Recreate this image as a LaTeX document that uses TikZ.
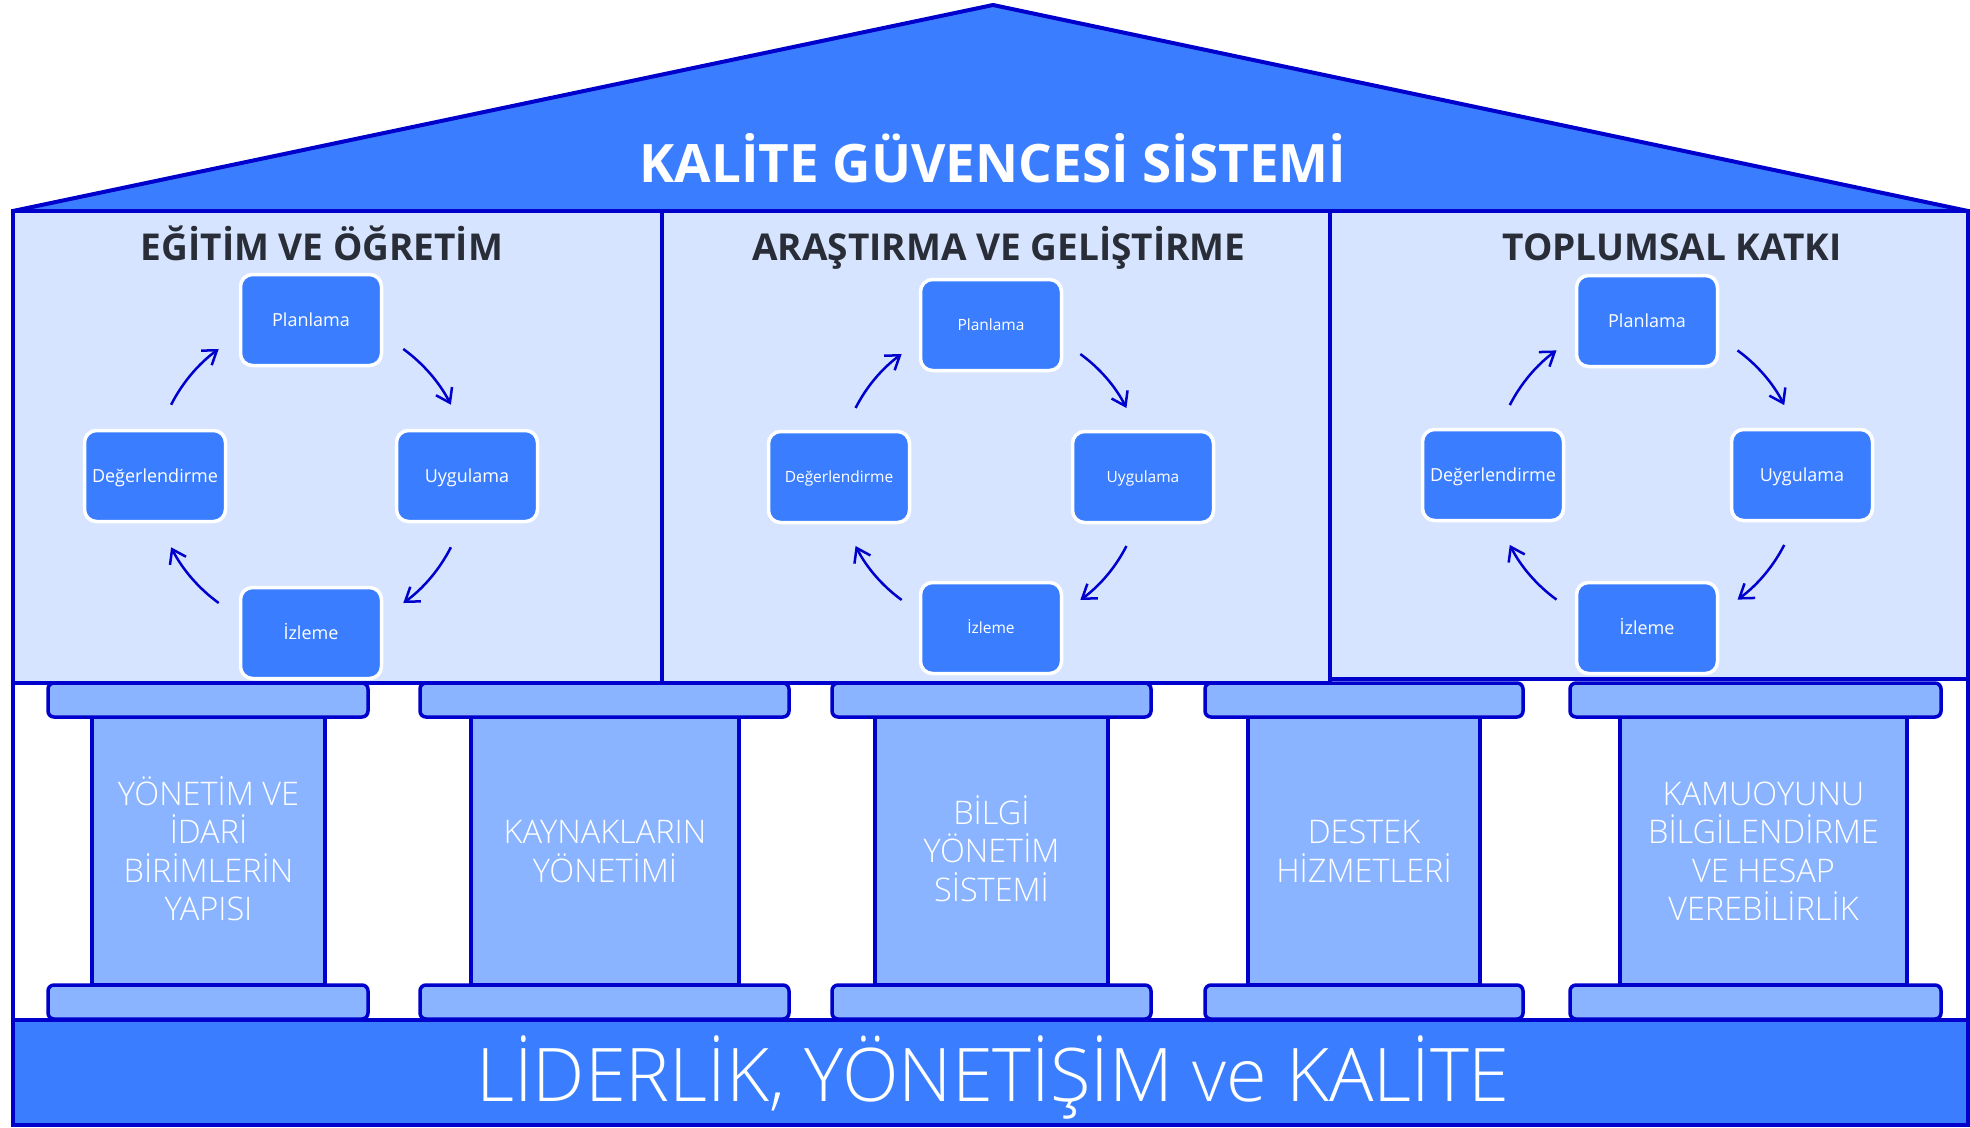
\documentclass[tikz,border=0pt]{standalone}
\usepackage{fontspec}
\setmainfont{Open Sans}
\newfontfamily\lightfont{Open Sans Light}
\usetikzlibrary{arrows.meta,calc}
\definecolor{roofblue}{RGB}{58,126,255}
\definecolor{panelbg}{RGB}{214,228,255}
\definecolor{pillarbg}{RGB}{138,180,255}
\definecolor{edgeblue}{RGB}{0,0,204}
\definecolor{titlecol}{RGB}{40,45,55}
\begin{document}
\begin{tikzpicture}[x=1pt,y=-1pt,
  roofst/.style={draw=edgeblue, fill=roofblue, line width=4pt, line join=round},
  rooftext/.style={text=white, font=\bfseries\fontsize{53}{60}\selectfont, inner sep=0pt},
  panel/.style={draw=edgeblue, fill=panelbg, line width=4pt, outer sep=0pt, inner sep=0pt},
  ptitle/.style={text=titlecol, font=\bfseries\fontsize{37}{42}\selectfont, inner sep=0pt},
  cbox/.style={draw=white, fill=roofblue, line width=3.5pt, rounded corners=12pt,
    minimum width=141pt, minimum height=91pt, text=white, inner sep=0pt, outer sep=0pt,
    text height=13pt, text depth=0pt, font=\fontsize{18}{20}\selectfont},
  cboxs/.style={cbox, text height=11.5pt, font=\fontsize{15.5}{18}\selectfont},
  cyc/.style={draw=edgeblue, line width=2.5pt, -{Straight Barb[length=13pt,width=18pt]}},
  pcap/.style={draw=edgeblue, fill=pillarbg, line width=3.5pt, rounded corners=6pt},
  pshaft/.style={draw=edgeblue, fill=pillarbg, line width=3.5pt},
  ptext/.style={text=white, align=center, inner sep=0pt, font=\lightfont\fontsize{32.5}{38.5}\selectfont},
  basest/.style={draw=edgeblue, fill=roofblue, line width=4pt},
  basetext/.style={text=white, inner sep=0pt, font=\lightfont\fontsize{74}{82}\selectfont},
  edgeline/.style={draw=edgeblue, line width=4pt}
]
\useasboundingbox (0,0) rectangle (1970,1127);

% roof
\draw[roofst] (13,211) -- (993,5) -- (1968,211) -- cycle;
\node[rooftext, anchor=base] (roof) at (993,182) {KALİTE GÜVENCESİ SİSTEMİ};

% side lines of the pillar hall
\draw[edgeline] (13,683) -- (13,1020);
\draw[edgeline] (1968,679) -- (1968,1020);

% panels
\node[panel, minimum width=649pt, minimum height=472pt] (pan1) at (337.5,447) {};
\node[panel, minimum width=668pt, minimum height=472pt] (pan2) at (996,447) {};
\node[panel, minimum width=638pt, minimum height=468pt] (pan3) at (1649,445) {};

\node[ptitle, anchor=base] (t1) at (322,260) {EĞİTİM VE ÖĞRETİM};
\node[ptitle, anchor=base] (t2) at (999,260) {ARAŞTIRMA VE GELİŞTİRME};
\node[ptitle, anchor=base] (t3) at (1672,260) {TOPLUMSAL KATKI};

% cycle 1
\node[cbox] (p1) at (311,320) {Planlama};
\node[cbox] (u1) at (467,476) {Uygulama};
\node[cbox] (i1) at (311,633) {İzleme};
\node[cbox] (d1) at (155,476) {Değerlendirme};
\coordinate (c1) at (311,476);
\foreach \a in {-54,27,126,207}
  \draw[cyc] ($(c1)+(\a:157)$) arc[start angle=\a, delta angle=27, radius=157];

% cycle 2
\node[cboxs] (p2) at (991,325) {Planlama};
\node[cboxs] (u2) at (1143,477) {Uygulama};
\node[cboxs] (i2) at (991,628) {İzleme};
\node[cboxs] (d2) at (839,477) {Değerlendirme};
\coordinate (c2) at (991,477);
\foreach \a in {-54,27,126,207}
  \draw[cyc] ($(c2)+(\a:152)$) arc[start angle=\a, delta angle=27, radius=152];

% cycle 3
\node[cbox] (p3) at (1647,321) {Planlama};
\node[cbox] (u3) at (1802,475) {Uygulama};
\node[cbox] (i3) at (1647,628) {İzleme};
\node[cbox] (d3) at (1493,475) {Değerlendirme};
\coordinate (c3) at (1647,475);
\foreach \a in {-54,27,126,207}
  \draw[cyc] ($(c3)+(\a:154)$) arc[start angle=\a, delta angle=27, radius=154];

% pillars
\foreach \cl/\cr/\sl/\sr in {48/368/92/325, 420/789/471/739, 832/1151/875/1108, 1205/1523/1248/1480, 1570/1941/1620/1907}{
  \draw[pshaft] (\sl,717) rectangle (\sr,985);
  \draw[pcap] (\cl,683) rectangle (\cr,717);
  \draw[pcap] (\cl,985) rectangle (\cr,1019);
}
\node[ptext] (l1) at (208.5,848.5) {YÖNETİM VE\\İDARİ\\BİRİMLERİN\\YAPISI};
\node[ptext] (l2) at (605,848.5) {\vphantom{İ}KAYNAKLARIN\\YÖNETİMİ};
\node[ptext] (l3) at (991.5,848.5) {BİLGİ\\YÖNETİM\\SİSTEMİ};
\node[ptext] (l4) at (1364,848.5) {\vphantom{İ}DESTEK\\HİZMETLERİ};
\node[ptext] (l5) at (1763.5,848.5) {\vphantom{İ}KAMUOYUNU\\BİLGİLENDİRME\\VE HESAP\\VEREBİLİRLİK};

% base
\draw[basest] (13,1020) rectangle (1968,1125);
\node[basetext, anchor=base] (base) at (993,1101.5) {LİDERLİK, YÖNETİŞİM ve KALİTE};
\end{tikzpicture}
\end{document}
